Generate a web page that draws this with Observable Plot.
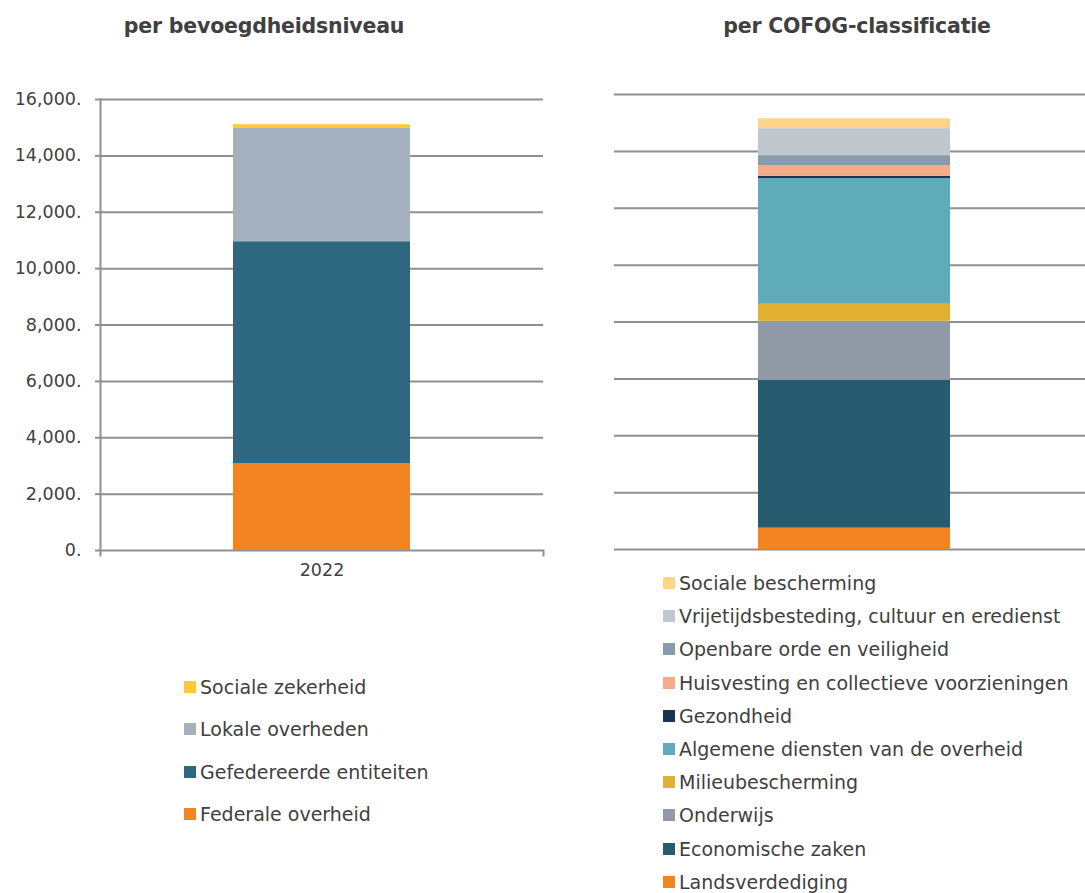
<!DOCTYPE html>
<html><head><meta charset="utf-8">
<script src="https://cdn.jsdelivr.net/npm/d3@7"></script>
<script src="https://cdn.jsdelivr.net/npm/@observablehq/plot@0.6"></script>
<style>
body{margin:0;background:#fff;}
#wrap{position:relative;width:1085px;height:893px;font-family:"DejaVu Sans",sans-serif;color:#404040;overflow:hidden}
.title{position:absolute;font-weight:bold;font-size:20.5px;top:14px;width:400px;text-align:center;letter-spacing:-0.2px}
.plot{position:absolute;top:0}
.item{display:flex;align-items:center;font-size:19px;white-space:nowrap;position:absolute;line-height:22px}
.sw{width:12px;height:12px;margin-right:4px;flex:none}
</style></head>
<body><div id="wrap"></div>
<script>
// ---- data ----
const years = ["2022"];
const yTicks = [0, 2000, 4000, 6000, 8000, 10000, 12000, 14000, 16000];

// per bevoegdheidsniveau (stack order bottom -> top)
const levelSeries = ["Federale overheid", "Gefedereerde entiteiten", "Lokale overheden", "Sociale zekerheid"];
const levelValues = [3085, 7870, 4040, 110];
const levelColors = ["#F28422", "#2E6880", "#A5B1BF", "#FFC83A"];

// per COFOG-classificatie (stack order bottom -> top)
const cofogSeries = ["Landsverdediging", "Economische zaken", "Onderwijs", "Milieubescherming",
  "Algemene diensten van de overheid", "Gezondheid", "Huisvesting en collectieve voorzieningen",
  "Openbare orde en veiligheid", "Vrijetijdsbesteding, cultuur en eredienst", "Sociale bescherming"];
const cofogValues = [750, 5200, 2075, 600, 4420, 80, 375, 350, 950, 350];
const cofogColors = ["#F28422", "#275C70", "#919BA7", "#E1B033", "#5FABBA", "#1B3452", "#F5AA88",
  "#879CA8", "#BFC7CF", "#FFD58C"];

const titles = ["per bevoegdheidsniveau", "per COFOG-classificatie"];

// ---- build ----
const FONT = '"DejaVu Sans",sans-serif';
const GRID = "#8f8f8f";
const wrap = document.getElementById("wrap");

const levelData = levelSeries.map((s, i) => ({year: years[0], series: s, value: levelValues[i]}));
const cofogData = cofogSeries.map((s, i) => ({year: years[0], series: s, value: cofogValues[i]}));

const LH = 600, LMT = 99, LMB = 50;
const left = Plot.plot({
  width: 560, height: LH,
  marginLeft: 100, marginRight: 17, marginTop: LMT, marginBottom: LMB,
  style: {fontFamily: FONT, fontSize: "17.5px", color: "#404040", background: "transparent"},
  x: {domain: years, padding: 0.4286, label: null},
  y: {domain: [0, 16000], label: null},
  color: {domain: levelSeries, range: levelColors},
  marks: [
    Plot.ruleY(yTicks, {stroke: GRID, strokeWidth: 2}),
    Plot.barY(levelData, {x: "year", y: "value", fill: "series", order: levelSeries}),
    Plot.frame({anchor: "left", stroke: GRID, strokeWidth: 2, insetBottom: -5}),
    Plot.frame({anchor: "right", stroke: GRID, strokeWidth: 2, insetBottom: -5, insetTop: LH - LMT - LMB}),
    Plot.axisY({ticks: yTicks, tickSize: 5, tickPadding: 14, stroke: GRID, strokeWidth: 2,
      tickFormat: d => d3.format(",.0f")(d) + ".", label: null}),
    Plot.axisX({tickSize: 0, tickPadding: 13, label: null})
  ]
});
left.classList.add("plot");
left.style.left = "0px";
wrap.appendChild(left);

const right = Plot.plot({
  width: 485, height: 560,
  marginLeft: 14, marginRight: 0, marginTop: 94, marginBottom: 11,
  style: {fontFamily: FONT, fontSize: "18px", color: "#404040", background: "transparent"},
  x: {domain: years, padding: 0.4187, align: 0.518, axis: null},
  y: {domain: [0, 16000], axis: null},
  color: {domain: cofogSeries, range: cofogColors},
  marks: [
    Plot.ruleY(yTicks, {stroke: GRID, strokeWidth: 2}),
    Plot.barY(cofogData, {x: "year", y: "value", fill: "series", order: cofogSeries})
  ]
});
right.classList.add("plot");
right.style.left = "600px";
wrap.appendChild(right);

// titles
[[64, titles[0]], [657, titles[1]]].forEach(([x, t]) => {
  const d = document.createElement("div");
  d.className = "title"; d.style.left = x + "px"; d.textContent = t;
  wrap.appendChild(d);
});

// legends (top row = last stacked series)
function legend(series, colors, x, y0, step) {
  const order = series.map((s, i) => i).reverse();
  order.forEach((i, r) => {
    const it = document.createElement("div");
    it.className = "item";
    it.style.left = x + "px";
    it.style.top = (y0 + r * step - 11) + "px";
    const sw = document.createElement("span");
    sw.className = "sw"; sw.style.background = colors[i];
    const tx = document.createElement("span");
    tx.textContent = series[i];
    it.appendChild(sw); it.appendChild(tx);
    wrap.appendChild(it);
  });
}
legend(levelSeries, levelColors, 184, 687, 42.4);
legend(cofogSeries, cofogColors, 663, 583, 33.2);
</script>
</body></html>
